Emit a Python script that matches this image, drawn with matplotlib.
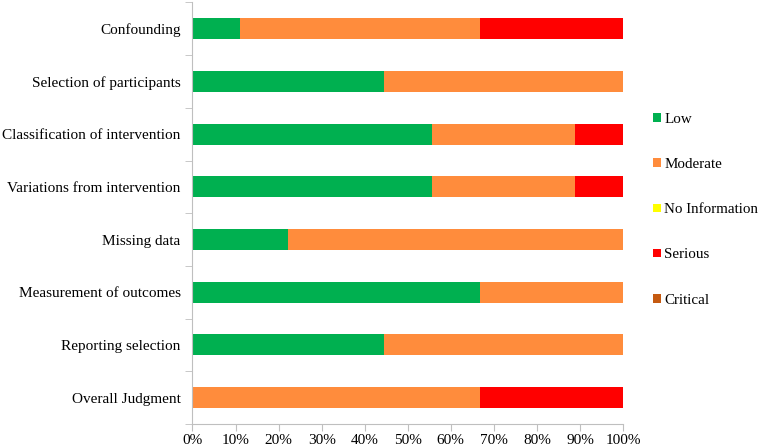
import matplotlib
matplotlib.use("Agg")
import matplotlib.pyplot as plt
import numpy as np
from matplotlib.patches import Patch

plt.rcParams['font.family'] = 'serif'
plt.rcParams['font.serif'] = ['Liberation Serif', 'DejaVu Serif']

categories = ["Confounding", "Selection of participants", "Classification of intervention",
              "Variations from intervention", "Missing data", "Measurement of outcomes",
              "Reporting selection", "Overall Judgment"]
series_names = ["Low", "Moderate", "No Information", "Serious", "Critical"]
low      = [11.1, 44.4, 55.6, 55.6, 22.2, 66.7, 44.4, 0.0]
moderate = [55.6, 55.6, 33.3, 33.3, 77.8, 33.3, 55.6, 66.7]
noinfo   = [0, 0, 0, 0, 0, 0, 0, 0]
serious  = [33.3, 0.0, 11.1, 11.1, 0.0, 0.0, 0.0, 33.3]
critical = [0, 0, 0, 0, 0, 0, 0, 0]
colors = ["#00B050", "#FF8C3C", "#FFFF00", "#FF0000", "#C55A11"]

FS = 11

fig = plt.figure(figsize=(7.62, 4.48), dpi=100)
ax = fig.add_axes([0.2526, 0.0536, 0.5650, 0.941])

y = np.arange(len(categories))
left = np.zeros(len(categories))
for name, vals, c in zip(series_names, [low, moderate, noinfo, serious, critical], colors):
    vals = np.array(vals, dtype=float)
    ax.barh(y, vals, left=left, height=0.4, color=c, label=name)
    left += vals

ax.set_ylim(len(categories) - 0.5, -0.5)
ax.set_xlim(0, 100)
ax.set_yticks(y)
ax.set_yticklabels(categories, fontsize=FS)
ax.set_yticks(np.arange(-0.5, len(categories), 1.0), minor=True)
ax.tick_params(axis='y', which='major', length=0, pad=8.5)
ax.tick_params(axis='y', which='minor', length=5, color='#BFBFBF', direction='out')
ax.set_xticks(np.arange(0, 101, 10))
ax.set_xticklabels([f"{v}%" for v in range(0, 101, 10)], fontsize=FS)
ax.tick_params(axis='x', length=5, color='#BFBFBF', direction='out', pad=2)
for s in ['top', 'right']:
    ax.spines[s].set_visible(False)
for s in ['left', 'bottom']:
    ax.spines[s].set_color('#BFBFBF')

handles = [Patch(facecolor=c, label=n) for n, c in zip(series_names, colors)]
fig.legend(handles=handles, loc='center left', bbox_to_anchor=(0.857, 0.532),
           frameon=False, fontsize=10.8, handlelength=0.5, handleheight=0.5,
           handletextpad=0.25, labelspacing=2.15, borderaxespad=0, borderpad=0)

fig.savefig("out.png", dpi=100)
